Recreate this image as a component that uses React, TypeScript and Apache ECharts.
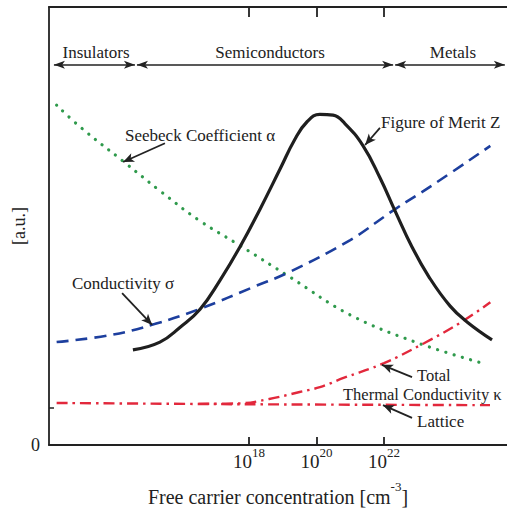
import React, { useEffect, useRef } from 'react';
import * as echarts from 'echarts';

const FONT = "'Liberation Serif', 'Times New Roman', serif";
const INK = '#222222';

// x: log10 of free carrier concentration (cm^-3); y: arbitrary units (0–100)
const xMin = 12.074;
const xMax = 25.644;
const xTickExponents = [18, 20, 22];
const yTickValues = [8.5];
const yLabelValues = [0];

const seebeckX = [12.3, 13.0, 14.3, 15.4, 16.5, 17.7, 19.2, 21.0, 23.0, 25.0];
const seebeckY = [77.6, 72.6, 64.6, 57.8, 51.4, 45.7, 38.4, 29.7, 23.3, 18.5];

const conductivityX = [12.3, 13.9, 15.2, 16.55, 18.2, 19.2, 21.0, 22.3, 23.45, 25.15];
const conductivityY = [23.5, 25.1, 27.6, 31.1, 36.3, 39.5, 46.8, 53.7, 59.4, 68.3];

const meritX = [14.56, 15.36, 15.96, 16.55, 17.14, 17.73, 18.33, 18.92, 19.36, 19.72, 20.1, 20.49, 20.84, 21.38, 21.88, 22.33, 22.83, 23.33, 23.96, 24.46, 25.2];
const meritY = [21.7, 23.5, 26.9, 31.0, 37.6, 45.2, 53.9, 63.0, 69.8, 73.8, 75.5, 75.3, 73.4, 68.3, 61.0, 53.4, 45.2, 38.4, 31.7, 28.1, 24.0];

const latticeX = [12.3, 18.0, 25.14];
const latticeY = [9.6, 9.3, 9.1];

const totalX = [16.5, 17.7, 18.6, 19.5, 20.1, 20.8, 22.0, 23.2, 24.3, 25.15];
const totalY = [9.4, 9.5, 10.5, 12.1, 13.2, 15.3, 18.7, 23.3, 28.1, 32.6];

const regionNames = ['Insulators', 'Semiconductors', 'Metals'];
const regionStart = [12.22, 14.68, 22.33];
const regionEnd = [14.62, 22.27, 25.58];
const regionLevel = 86.8;

// annotation arrows: tail -> head (pointing at the curves)
const arrowTailX = [15.51, 21.88, 14.24, 22.83, 22.83];
const arrowTailY = [68.9, 72.4, 34.7, 15.5, 6.2];
const arrowHeadX = [14.27, 21.44, 15.13, 21.94, 21.97];
const arrowHeadY = [64.6, 68.5, 27.4, 18.3, 9.1];

const zip = (xs: number[], ys: number[]) => xs.map((x, i) => [x, ys[i]]);

export default function App() {
  const ref = useRef<HTMLDivElement>(null);

  useEffect(() => {
    if (!ref.current) return;
    const chart = echarts.init(ref.current, undefined, { renderer: 'svg' });

    const txt = (text: string, x: number, y: number, align: string, size = 17, extra: any = {}) => ({
      type: 'text',
      x,
      y,
      silent: true,
      ...extra,
      style: { text, fontSize: size, lineHeight: size, fontFamily: FONT, fill: INK, align, verticalAlign: 'middle' },
    });

    const regionArrows = regionNames.map((_, i) => [
      { coord: [regionStart[i], regionLevel], symbol: 'arrow', symbolSize: [6, 11] },
      { coord: [regionEnd[i], regionLevel], symbol: 'arrow', symbolSize: [6, 11] },
    ]);
    const annotationArrows = arrowTailX.map((_, i) => [
      { coord: [arrowTailX[i], arrowTailY[i]], symbol: 'none' },
      { coord: [arrowHeadX[i], arrowHeadY[i]], symbol: 'arrow', symbolSize: [7, 11] },
    ]);

    const option: any = {
      animation: false,
      backgroundColor: '#ffffff',
      grid: { left: 49, right: 0, top: 7, bottom: 63 },
      xAxis: [
        {
          type: 'value',
          position: 'bottom',
          min: xMin,
          max: xMax,
          axisLine: { show: true, lineStyle: { color: INK, width: 1.8 } },
          axisTick: { show: true, inside: true, length: 8, customValues: xTickExponents, lineStyle: { color: INK, width: 1.8 } },
          axisLabel: {
            show: true,
            customValues: xTickExponents,
            margin: 6,
            formatter: (v: number) => `{b|10}{s|${Math.round(v)}}`,
            rich: {
              b: { fontSize: 19, lineHeight: 20, fontFamily: FONT, color: INK },
              s: { fontSize: 13, lineHeight: 14, fontFamily: FONT, color: INK, padding: [0, 0, 18, 0] },
            },
          },
          splitLine: { show: false },
        },
        {
          type: 'value',
          position: 'top',
          min: xMin,
          max: xMax,
          axisLine: { show: true, lineStyle: { color: INK, width: 1.8 } },
          axisTick: { show: true, inside: true, length: 10, customValues: xTickExponents, lineStyle: { color: INK, width: 1.8 } },
          axisLabel: { show: false },
          splitLine: { show: false },
        },
      ],
      yAxis: {
        type: 'value',
        min: 0,
        max: 100,
        axisLine: { show: true, lineStyle: { color: INK, width: 1.8 } },
        axisTick: { show: true, inside: true, length: 5, customValues: yTickValues, lineStyle: { color: INK, width: 1.5 } },
        axisLabel: { show: true, customValues: yLabelValues, margin: 9, fontSize: 18, fontFamily: FONT, color: INK },
        splitLine: { show: false },
      },
      series: [
        {
          name: 'Seebeck Coefficient',
          type: 'line',
          data: zip(seebeckX, seebeckY),
          smooth: 0.4,
          symbol: 'none',
          silent: true,
          lineStyle: { color: '#2f9a4c', width: 3.2, type: [0.1, 8.5], cap: 'round' },
        },
        {
          name: 'Conductivity',
          type: 'line',
          data: zip(conductivityX, conductivityY),
          smooth: 0.4,
          symbol: 'none',
          silent: true,
          lineStyle: { color: '#1d3f9e', width: 2.6, type: [12, 7] },
        },
        {
          name: 'Lattice',
          type: 'line',
          data: zip(latticeX, latticeY),
          smooth: 0.4,
          symbol: 'none',
          silent: true,
          lineStyle: { color: '#e2283c', width: 2.4, type: [11, 5, 2.5, 5] },
          markLine: {
            silent: true,
            animation: false,
            label: { show: false },
            lineStyle: { color: INK, type: 'solid', width: 1.5 },
            emphasis: { disabled: true },
            data: regionArrows,
          },
        },
        {
          name: 'Total',
          type: 'line',
          data: zip(totalX, totalY),
          smooth: 0.4,
          symbol: 'none',
          silent: true,
          lineStyle: { color: '#e2283c', width: 2.4, type: [11, 5, 2.5, 5] },
        },
        {
          name: 'Figure of Merit Z',
          type: 'line',
          data: zip(meritX, meritY),
          smooth: 0.45,
          symbol: 'none',
          silent: true,
          lineStyle: { color: '#1f1f1f', width: 3.2 },
          markLine: {
            silent: true,
            animation: false,
            label: { show: false },
            lineStyle: { color: INK, type: 'solid', width: 1.8 },
            emphasis: { disabled: true },
            data: annotationArrows,
          },
        },
      ],
      graphic: [
        txt(regionNames[0], 96, 52, 'center'),
        txt(regionNames[1], 270, 52, 'center'),
        txt(regionNames[2], 453, 52, 'center'),
        txt('Seebeck Coefficient α', 125, 135, 'left'),
        txt('Figure of Merit Z', 381, 122, 'left'),
        txt('Conductivity σ', 72, 283, 'left'),
        txt('Total', 417, 375, 'left', 16.5),
        txt('Thermal Conductivity κ', 343, 394, 'left', 16.5),
        txt('Lattice', 417, 421, 'left'),
        txt('[a.u.]', 19, 226, 'center', 18, { rotation: Math.PI / 2 }),
        {
          type: 'text',
          x: 278,
          y: 497,
          silent: true,
          style: {
            text: '{a|Free carrier concentration [cm}{s|-3}{a|]}',
            align: 'center',
            verticalAlign: 'middle',
            fill: INK,
            rich: {
              a: { fontSize: 20, lineHeight: 22, fontFamily: FONT, fill: INK, color: INK },
              s: { fontSize: 13, lineHeight: 14, fontFamily: FONT, fill: INK, color: INK, padding: [0, 0, 22, 0] },
            },
          },
        },
      ],
    };

    chart.setOption(option);
    return () => chart.dispose();
  }, []);

  return (
    <div
      ref={ref}
      style={{ position: 'absolute', left: 0, top: 0, width: 507, height: 508, background: '#fff' }}
    />
  );
}
